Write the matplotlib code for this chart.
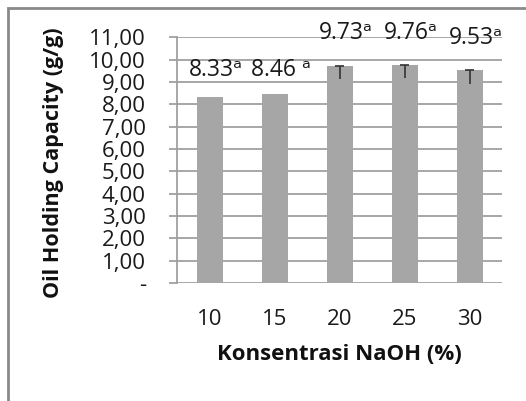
import matplotlib
matplotlib.use("Agg")
import matplotlib.pyplot as plt
from matplotlib.patches import Rectangle

categories = ["10", "15", "20", "25", "30"]
values = [8.33, 8.46, 9.73, 9.76, 9.53]
err_low = [0.0, 0.0, 0.6, 0.6, 0.6]
labels = ["8.33ᵃ", "8.46 ᵃ", "9.73ᵃ", "9.76ᵃ", "9.53ᵃ"]
label_y = [9.55, 9.55, 11.2, 11.2, 10.95]
yticks = list(range(0, 12))
yticklabels = ["-"] + [f"{v},00" for v in range(1, 12)]

plt.rcParams['font.family'] = ['Open Sans', 'DejaVu Sans']

fig = plt.figure(figsize=(5.26, 4.01), dpi=100)
fig.patches.append(Rectangle((8/526, -0.05), 1.1, 1 - 8/401 + 0.05, transform=fig.transFigure,
                             fill=False, edgecolor='#8a8a8a', linewidth=2.0, zorder=0))

ax = fig.add_axes([177/526, 1 - 283/401, (502-177)/526, (283-37.3)/401])
x = list(range(len(categories)))
ax.bar(x, values, width=0.4, color='#a6a6a6', zorder=2)

for xi, v, e in zip(x, values, err_low):
    if e > 0:
        ax.vlines(xi, v - e, v, color='#333333', linewidth=1.2, zorder=3)
        ax.hlines(v, xi - 0.065, xi + 0.065, color='#333333', linewidth=1.2, zorder=3)

for xi, t, ly in zip(x, labels, label_y):
    ax.text(xi + 0.1, ly, t, ha='center', va='center', fontsize=16.5, color='#1a1a1a', zorder=4)

ax.set_xlim(-0.5, 4.5)
ax.set_ylim(0, 11)
ax.set_yticks(yticks)
ax.set_yticklabels(yticklabels)
ax.set_xticks(x)
ax.set_xticklabels(categories)
ax.yaxis.grid(True, color='#a0a0a0', linewidth=1.3, zorder=1)
ax.set_axisbelow(True)
for s in ['top', 'right', 'bottom']:
    ax.spines[s].set_visible(False)
ax.spines['left'].set_color('#a0a0a0')
ax.spines['left'].set_linewidth(1.3)
ax.tick_params(axis='y', direction='out', length=5.5, width=1.3, color='#a0a0a0', pad=17,
               labelsize=16, labelcolor='#1a1a1a')
ax.tick_params(axis='x', length=0, pad=19, labelsize=16, labelcolor='#1a1a1a')

ax.set_xlabel("Konsentrasi NaOH (%)", fontsize=16, fontweight='bold', labelpad=10, color='#111111')
ax.set_ylabel("Oil Holding Capacity (g/g)", fontsize=15.5, fontweight='bold', color='#111111')
ax.yaxis.set_label_coords(-(177-64)/325, 0.49)

fig.savefig("out.png", dpi=100)
